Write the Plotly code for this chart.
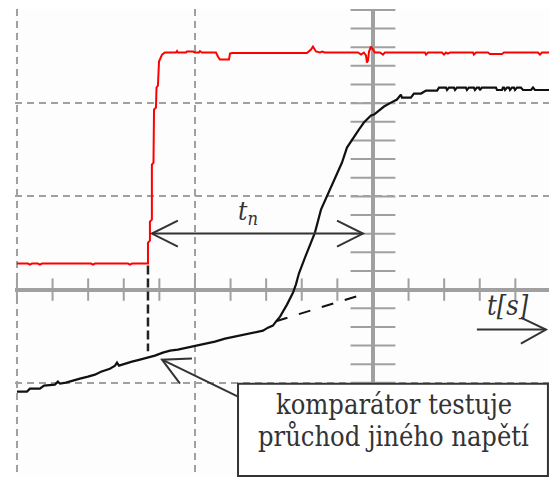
import numpy as np
import plotly.graph_objects as go

# ---- data (time and voltage in screen divisions) ----
red_t = [-2.0, -1.938, -1.927, -1.916, -1.882, -1.871, -1.860, -1.584, -1.573, -1.562,
         -1.376, -1.365, -1.354, -1.264, -1.264, -1.253, -1.253, -1.242, -1.242, -1.233,
         -1.230, -1.219, -1.216, -1.208, -1.202, -1.191, -1.185, -1.169, -1.107, -1.101,
         -1.096, -1.051, -1.045, -1.011, -1.000, -0.978, -0.972, -0.961, -0.882, -0.871,
         -0.860, -0.809, -0.803, -0.792, -0.371, -0.348, -0.337, -0.320, -0.298, -0.287,
         -0.270, -0.118, -0.084, -0.067, -0.051, -0.039, -0.034, -0.028, -0.022, -0.011,
         0.000, 0.011, 0.039, 0.056, 0.067, 0.292, 0.298, 0.309, 0.388, 0.399,
         0.410, 0.421, 0.433, 0.562, 0.567, 0.579, 0.646, 0.657, 0.725, 0.736,
         0.927, 0.938, 0.949, 0.99]
red_v = [0.279, 0.279, 0.268, 0.279, 0.279, 0.268, 0.279, 0.279, 0.268, 0.279,
         0.279, 0.268, 0.279, 0.279, 0.504, 0.526, 0.730, 0.751, 1.341, 1.363,
         1.931, 1.953, 2.167, 2.189, 2.446, 2.489, 2.521, 2.543, 2.543, 2.559,
         2.543, 2.543, 2.554, 2.554, 2.543, 2.543, 2.559, 2.543, 2.543, 2.500,
         2.468, 2.468, 2.532, 2.538, 2.538, 2.575, 2.607, 2.554, 2.543, 2.554,
         2.543, 2.543, 2.543, 2.521, 2.543, 2.511, 2.436, 2.457, 2.554, 2.607,
         2.575, 2.543, 2.543, 2.521, 2.543, 2.543, 2.521, 2.543, 2.543, 2.521,
         2.543, 2.532, 2.543, 2.543, 2.521, 2.543, 2.543, 2.527, 2.527, 2.543,
         2.543, 2.521, 2.543, 2.543]

black_t = [-2.0, -1.944, -1.927, -1.871, -1.848, -1.787, -1.770, -1.758, -1.725, -1.691,
           -1.646, -1.601, -1.562, -1.528, -1.478, -1.449, -1.438, -1.427, -1.393, -1.354,
           -1.309, -1.264, -1.225, -1.180, -1.140, -1.096, -1.039, -0.994, -0.944, -0.888,
           -0.831, -0.775, -0.719, -0.663, -0.618, -0.590, -0.562, -0.545, -0.522, -0.483,
           -0.449, -0.433, -0.416, -0.382, -0.354, -0.326, -0.292, -0.258, -0.219, -0.174,
           -0.146, -0.118, -0.079, -0.051, -0.011, 0.006, 0.062, 0.101, 0.135, 0.157,
           0.163, 0.213, 0.230, 0.270, 0.298, 0.360, 0.371, 0.410, 0.416, 0.427,
           0.455, 0.461, 0.472, 0.522, 0.528, 0.539, 0.567, 0.573, 0.584, 0.596,
           0.601, 0.612, 0.691, 0.697, 0.725, 0.730, 0.736, 0.742, 0.753, 0.764,
           0.770, 0.781, 0.792, 0.798, 0.809, 0.831, 0.843, 0.888, 0.899, 0.910,
           0.99]
black_v = [-1.094, -1.094, -1.062, -1.062, -1.030, -1.019, -0.987, -1.009, -0.998, -0.976,
           -0.955, -0.933, -0.912, -0.880, -0.848, -0.815, -0.783, -0.815, -0.794, -0.773,
           -0.751, -0.730, -0.708, -0.676, -0.655, -0.644, -0.622, -0.601, -0.579, -0.558,
           -0.526, -0.504, -0.483, -0.461, -0.440, -0.408, -0.386, -0.343, -0.290, -0.161,
           -0.032, 0.054, 0.172, 0.343, 0.472, 0.612, 0.858, 1.009, 1.180, 1.363,
           1.524, 1.609, 1.717, 1.792, 1.867, 1.878, 1.964, 2.006, 2.039, 2.092,
           2.060, 2.060, 2.103, 2.103, 2.135, 2.135, 2.167, 2.167, 2.141, 2.167,
           2.167, 2.141, 2.167, 2.167, 2.141, 2.167, 2.167, 2.141, 2.167, 2.167,
           2.141, 2.167, 2.167, 2.141, 2.141, 2.167, 2.167, 2.141, 2.167, 2.167,
           2.141, 2.167, 2.167, 2.141, 2.167, 2.167, 2.141, 2.141, 2.167, 2.141,
           2.141]

# comparator threshold crossing and extrapolated ramp (divisions)
trigger_t = -1.264
trigger_v = [0.258, -0.66]
extrap_t = [-0.545, -0.067]
extrap_v = [-0.339, -0.057]

label_tn = "<i>t<sub>n</sub></i>"
label_axis = "<i>t[s]</i>"
note_lines = ["komparátor testuje", "průchod jiného napětí"]

GRID = "#a0a0a0"
INK = "#333333"
SERIF = "DejaVu Serif Condensed, DejaVu Serif"

fig = go.Figure()

# axis tick marks on the centre cross
xt = np.round(np.arange(-2.0, 0.99, 0.2), 3)
yt = np.round(np.arange(-2.0, 3.01, 0.2), 3)
fig.add_trace(go.Scatter(x=xt, y=np.zeros_like(xt), mode="markers",
                         marker=dict(symbol="line-ns", size=16,
                                     line=dict(color=GRID, width=2)),
                         hoverinfo="skip", showlegend=False))
fig.add_trace(go.Scatter(x=np.zeros_like(yt), y=yt, mode="markers",
                         marker=dict(symbol="line-ew", size=32,
                                     line=dict(color=GRID, width=2)),
                         hoverinfo="skip", showlegend=False))

fig.add_trace(go.Scatter(x=red_t, y=red_v, mode="lines",
                         line=dict(color="#ff0000", width=2),
                         showlegend=False))
fig.add_trace(go.Scatter(x=black_t, y=black_v, mode="lines",
                         line=dict(color="#111111", width=2.2),
                         showlegend=False))

# dashed helper lines
fig.add_shape(type="line", x0=trigger_t, x1=trigger_t, y0=trigger_v[0], y1=trigger_v[1],
              xref="x", yref="y", line=dict(color="#222222", width=2.5, dash="9px,4px"))
fig.add_shape(type="line", x0=extrap_t[0], x1=extrap_t[1], y0=extrap_v[0], y1=extrap_v[1],
              xref="x", yref="y", line=dict(color="#111111", width=2, dash="12px,12px"))

# t_n double arrow
fig.add_shape(type="line", x0=-1.242, x1=-0.056, y0=0.601, y1=0.601,
              line=dict(color=INK, width=2))
fig.add_shape(type="path", path="M -1.096 0.740 L -1.242 0.601 L -1.096 0.461",
              line=dict(color=INK, width=2))
fig.add_shape(type="path", path="M -0.202 0.740 L -0.056 0.601 L -0.202 0.461",
              line=dict(color=INK, width=2))

# time axis arrow
fig.add_shape(type="line", x0=0.584, x1=0.972, y0=-0.429, y1=-0.429,
              line=dict(color=INK, width=2))
fig.add_shape(type="path", path="M 0.831 -0.300 L 0.972 -0.429 L 0.831 -0.579",
              line=dict(color=INK, width=2))

# note box and its pointer
fig.add_shape(type="line", x0=-1.185, y0=-0.751, x1=-0.758, y1=-1.148,
              line=dict(color=INK, width=2))
fig.add_shape(type="path", path="M -1.017 -0.740 L -1.185 -0.751 L -1.084 -1.009",
              line=dict(color=INK, width=2))
fig.add_shape(type="rect", x0=-0.758, x1=0.983, y0=-2.0, y1=-1.009,
              line=dict(color=INK, width=2), fillcolor="white", layer="above")

fig.add_annotation(x=-0.702, y=0.83, text=label_tn, showarrow=False,
                   font=dict(family=SERIF, size=26, color=INK))
fig.add_annotation(x=0.758, y=-0.165, text=label_axis, showarrow=False,
                   font=dict(family=SERIF, size=27, color=INK))
fig.add_annotation(x=0.118, y=-1.234, text=note_lines[0], showarrow=False,
                   font=dict(family=SERIF, size=27, color=INK))
fig.add_annotation(x=0.118, y=-1.577, text=note_lines[1], showarrow=False,
                   font=dict(family=SERIF, size=27, color=INK))

axis_common = dict(showgrid=True, gridcolor=GRID, gridwidth=2, griddash="7px,5px",
                   zeroline=True, zerolinecolor=GRID, zerolinewidth=4,
                   showticklabels=False, ticks="", showline=False, dtick=1, tick0=0)
fig.update_xaxes(range=[-2.011, 0.989], **axis_common)
fig.update_yaxes(range=[-2.01, 3.01], **axis_common)

fig.update_layout(width=549, height=477, margin=dict(l=15, r=0, t=9, b=0),
                  paper_bgcolor="white", plot_bgcolor="#fdfdfd", showlegend=False,
                  font=dict(family=SERIF))

fig.write_html("out.html")
